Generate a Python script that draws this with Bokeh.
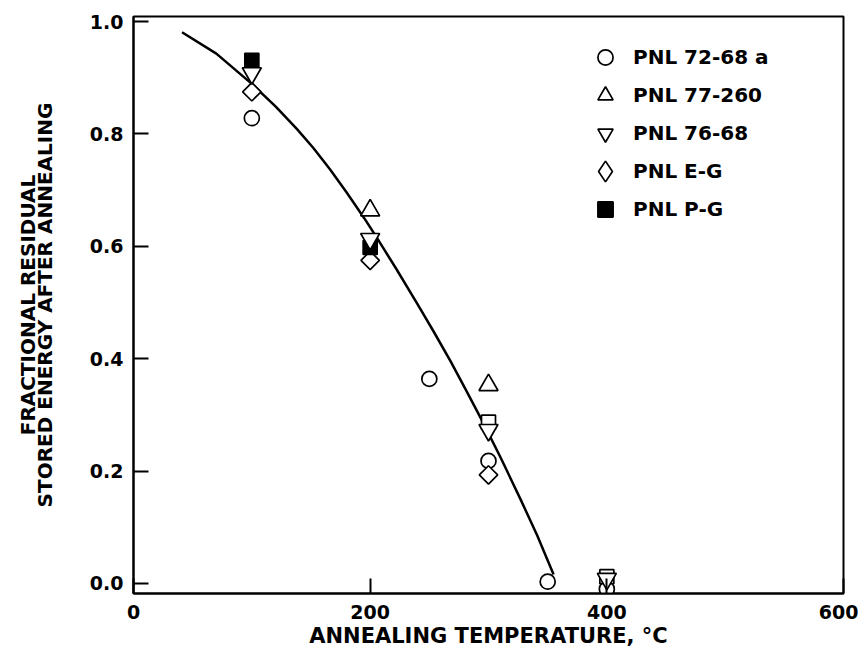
from bokeh.plotting import figure
from bokeh.models import Legend, LegendItem, Range1d, FixedTicker, NumeralTickFormatter, ColumnDataSource
from bokeh.embed import file_html
from bokeh.resources import INLINE
import numpy as np

# ---- data ----
temp_7268 = [100, 250, 300, 350, 400]
frac_7268 = [0.828, 0.364, 0.218, 0.003, -0.01]

temp_77260 = [200, 300]
frac_77260 = [0.664, 0.353]

temp_7668 = [100, 200, 300, 400]
frac_7668 = [0.908, 0.613, 0.273, 0.008]

temp_eg = [100, 200, 300]
frac_eg = [0.875, 0.575, 0.193]

temp_pg = [100, 200, 300, 400]
frac_pg = [0.931, 0.598, 0.287, 0.012]
fill_pg = ["black", "black", "white", "white"]

curve_t = [41, 70, 100, 120, 138, 152, 166, 180, 195, 206, 222, 240, 254, 268,
           281, 295, 310, 327, 341, 355]
curve_f = [0.981, 0.943, 0.889, 0.849, 0.809, 0.775, 0.737, 0.696, 0.650, 0.614,
           0.560, 0.497, 0.447, 0.395, 0.344, 0.288, 0.225, 0.150, 0.086, 0.016]

x_ticks = [0, 200, 400, 600]
y_ticks = [0.0, 0.2, 0.4, 0.6, 0.8, 1.0]

FONT = "DejaVu Sans"

p = figure(width=858, height=650, output_backend="svg", toolbar_location=None,
           x_range=Range1d(0, 600), y_range=Range1d(-0.018, 1.009),
           min_border_left=133, min_border_right=15, min_border_top=16, min_border_bottom=56)
p.background_fill_color = "white"
p.border_fill_color = "white"
p.grid.visible = False
p.outline_line_color = "black"
p.outline_line_width = 2

for ax in (p.xaxis[0], p.yaxis[0]):
    ax.axis_line_color = "black"
    ax.axis_line_width = 2
    ax.major_tick_in = 15
    ax.major_tick_out = 0
    ax.major_tick_line_width = 2
    ax.major_tick_line_color = "black"
    ax.minor_tick_line_color = None
    ax.major_label_text_font = FONT
    ax.major_label_text_font_style = "bold"
    ax.major_label_text_font_size = "19px"
    ax.major_label_text_color = "black"
    ax.axis_label_text_font = FONT
    ax.axis_label_text_font_style = "bold"
    ax.axis_label_text_color = "black"

p.xaxis.ticker = FixedTicker(ticks=x_ticks)
p.yaxis.ticker = FixedTicker(ticks=y_ticks)
p.yaxis.formatter = NumeralTickFormatter(format="0.0")
p.xaxis.major_label_standoff = 11
p.yaxis.major_label_standoff = 10

p.xaxis.axis_label = "ANNEALING TEMPERATURE, °C"
p.xaxis.axis_label_text_font_size = "21px"
p.xaxis.axis_label_standoff = 2

p.yaxis.axis_label = "FRACTIONAL RESIDUAL\nSTORED ENERGY AFTER ANNEALING"
p.yaxis.axis_label_text_font_size = "20px"
p.yaxis.axis_label_text_line_height = 0.7
p.yaxis.axis_label_standoff = 30

# fitted curve
p.line(curve_t, curve_f, line_color="black", line_width=2.5, line_join="round")

r_7268 = p.scatter(temp_7268, frac_7268, marker="circle", size=15,
                   fill_color="white", line_color="black", line_width=1.7)
r_77260 = p.scatter(temp_77260, frac_77260, marker="triangle", size=19,
                    fill_color="white", line_color="black", line_width=1.7)
# legend swatch for the diamond series (zero size on the plot; the legend does not rotate markers)
r_eg_key = p.scatter(temp_eg, frac_eg, marker="diamond", size=0,
                     fill_color="white", line_color="black", line_width=1.7)
r_eg = p.scatter(temp_eg, frac_eg, marker="square", size=13, angle=np.pi / 4,
                 fill_color="white", line_color="black", line_width=1.7)
src_pg = ColumnDataSource(dict(x=temp_pg, y=frac_pg, fill=fill_pg))
r_pg = p.scatter("x", "y", source=src_pg, marker="square", size=14,
                 fill_color="fill", line_color="black", line_width=1.7)
r_7668 = p.scatter(temp_7668, frac_7668, marker="inverted_triangle", size=19,
                   fill_color="white", line_color="black", line_width=1.7)


def make_legend(items, loc, glyph, standoff):
    lg = Legend(items=items, location=loc)
    lg.border_line_color = None
    lg.background_fill_alpha = 0
    lg.padding = 0
    lg.margin = 0
    lg.glyph_width = glyph[0]
    lg.glyph_height = glyph[1]
    lg.spacing = 0
    lg.label_standoff = standoff
    lg.label_height = glyph[1]
    lg.label_text_font = FONT
    lg.label_text_font_style = "bold"
    lg.label_text_font_size = "20px"
    lg.label_text_color = "black"
    p.add_layout(lg, "center")
    return lg


make_legend([
    LegendItem(label="PNL 72-68 a", renderers=[r_7268], index=0),
    LegendItem(label="PNL 77-260", renderers=[r_77260], index=0),
    LegendItem(label="PNL 76-68", renderers=[r_7668], index=0),
], (452, 441), (40, 38), 8)
make_legend([
    LegendItem(label="PNL E-G", renderers=[r_eg_key], index=0),
], (446, 396), (52, 52), 2)
make_legend([
    LegendItem(label="PNL P-G", renderers=[r_pg], index=0),
], (452, 365), (40, 38), 8)

open("out.html", "w").write(file_html(p, INLINE))
